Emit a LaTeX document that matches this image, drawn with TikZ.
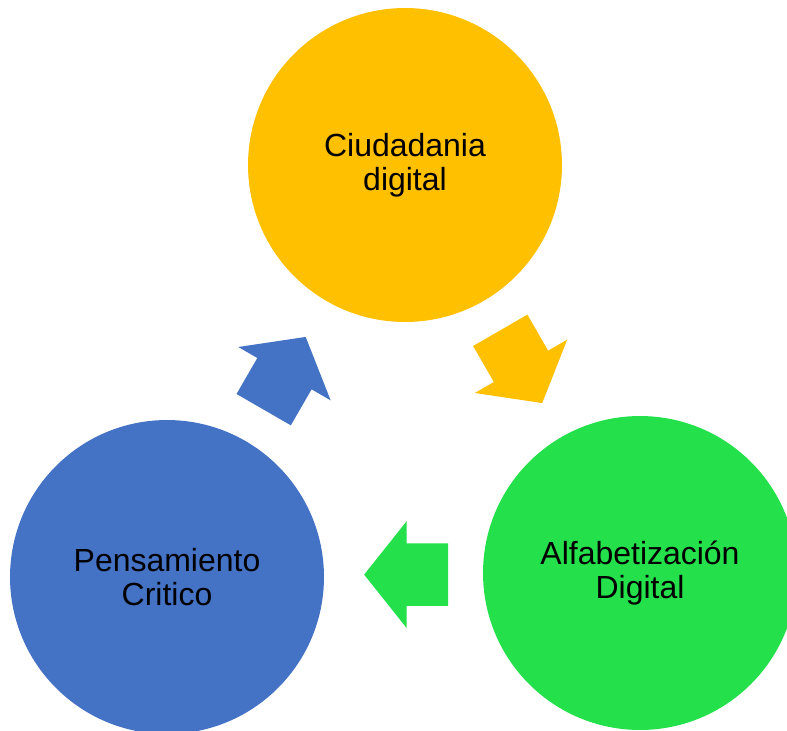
\documentclass[tikz,border=0pt]{standalone}
\usepackage{fontspec}
\setmainfont{Liberation Sans}
\usetikzlibrary{shapes.arrows,calc}
\definecolor{ciudyellow}{RGB}{255,192,0}
\definecolor{alfagreen}{RGB}{35,224,75}
\definecolor{pensblue}{RGB}{68,114,196}

\begin{document}
\begin{tikzpicture}[x=0.02cm, y=-0.02cm,
    topic/.style={circle, minimum size=6.28cm, inner sep=0pt, align=center,
        font=\fontsize{18.2}{19.2}\selectfont},
    cyclearrow/.style={single arrow, minimum height=1.68cm, inner xsep=0pt, inner ysep=0.62cm,
        single arrow head extend=0.44cm, single arrow tip angle=103, anchor=tail}]
    \useasboundingbox (0,0) rectangle (787,730);

    % circles
    \node[topic, fill=ciudyellow] (ciud) at (405,165) {Ciudadania\\digital};
    \node[topic, fill=alfagreen] (alfa) at (640,573) {Alfabetización\\Digital};
    \node[topic, fill=pensblue] (pens) at (167,577) {Pensamiento\\Critico};

    % arrows between circles
    \node[cyclearrow, fill=ciudyellow, rotate=-60] (ciudalfa) at ($(ciud)!0.5!(alfa)!0.9cm!(ciud)$) {};
    \node[cyclearrow, fill=alfagreen, rotate=180] (alfapens) at ($(alfa)!0.5!(pens)!0.9cm!(alfa)$) {};
    \node[cyclearrow, fill=pensblue, rotate=60] (pensciud) at ($(pens)!0.5!(ciud)!0.9cm!(pens)$) {};
\end{tikzpicture}
\end{document}
